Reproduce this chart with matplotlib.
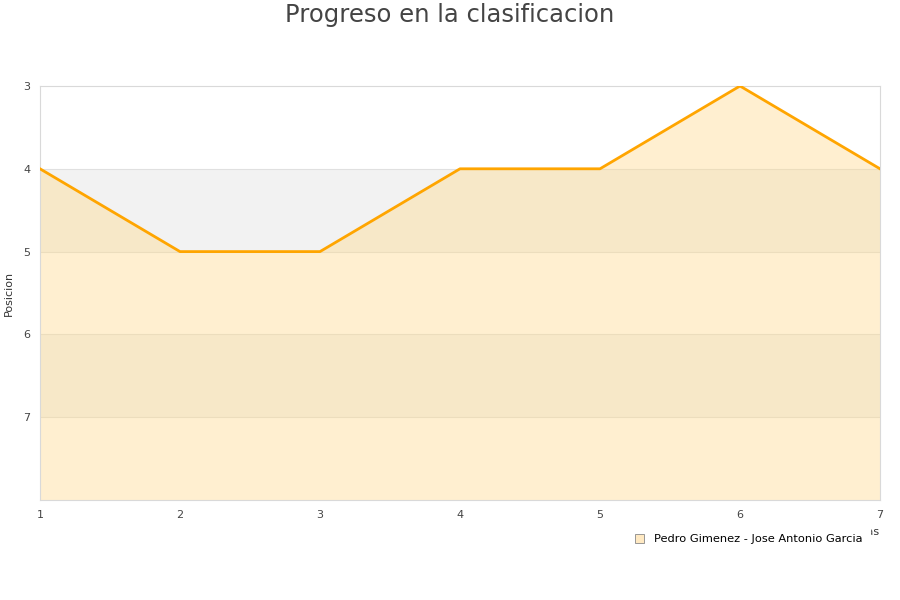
import matplotlib
matplotlib.use("Agg")
import matplotlib.pyplot as plt
from matplotlib.patches import Patch

jornadas = [1, 2, 3, 4, 5, 6, 7]
posicion = [4, 5, 5, 4, 4, 3, 4]
serie = "Pedro Gimenez - Jose Antonio Garcia"

fig = plt.figure(figsize=(9, 6), dpi=100)
ax = fig.add_axes([40/900, 1 - 500/600, 840/900, 414/600])

# bandas alternas
for y0 in [4, 6]:
    ax.axhspan(y0, y0 + 1, color="#f2f2f2", zorder=0, lw=0)
for y in [4, 5, 6, 7]:
    ax.axhline(y, color="#e0e0e0", lw=0.8, zorder=1)

ax.fill_between(jornadas, posicion, 8, color="#ffd98a", alpha=0.4, lw=0, zorder=2)
ax.plot(jornadas, posicion, color="#ffa500", lw=2, zorder=3)

ax.set_xlim(1, 7)
ax.set_ylim(8, 3)
ax.set_yticks([3, 4, 5, 6, 7])
ax.set_xticks(jornadas)
ax.tick_params(length=0, labelsize=8, colors="#444444")
ax.tick_params(axis="x", pad=7)
ax.tick_params(axis="y", pad=7)
for s in ax.spines.values():
    s.set_color("#d9d9d9")
ax.set_ylabel("Posicion", fontsize=8, color="#333333", labelpad=7)
# titulo del eje x queda casi tapado por la leyenda, como en el original
ax.set_xlabel("Jornadas", fontsize=8, color="#333333", loc="right", labelpad=5)

fig.suptitle("Progreso en la clasificacion", fontsize=17.5, color="#444444", y=0.995)

handles = [Patch(facecolor="#ffe9c2", edgecolor="#888888", lw=0.6)]
leg = fig.legend(handles, [serie], loc="center right", bbox_to_anchor=(0.973, 1 - 539/600),
                 frameon=True, facecolor="white", edgecolor="white", framealpha=1,
                 fontsize=8.2, handlelength=0.8, handleheight=0.8, borderpad=0.7)
leg.set_zorder(10)

fig.savefig("out.png", dpi=100)
